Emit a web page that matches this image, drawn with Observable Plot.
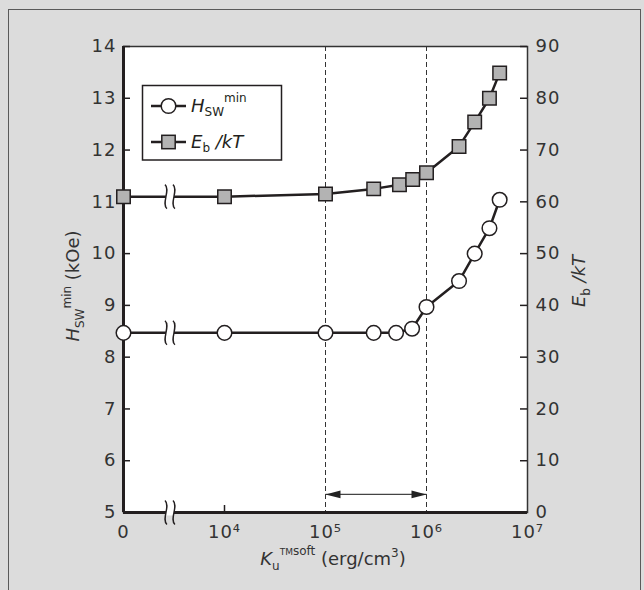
<!DOCTYPE html>
<html><head><meta charset="utf-8">
<script src="https://cdn.jsdelivr.net/npm/d3@7"></script>
<script src="https://cdn.jsdelivr.net/npm/@observablehq/plot@0.6"></script>
<style>
html,body{margin:0;padding:0;background:#dcdcdc;}
#wrap{position:relative;width:644px;height:590px;overflow:hidden;background:#dcdcdc;}
#border{position:absolute;left:8px;top:9px;width:633px;height:640px;border:1.5px solid #5a5a5a;box-sizing:border-box;}
#wrap svg{position:absolute;left:0;top:0;}
#wrap svg g[aria-label$="tick label"] text{letter-spacing:1px;}
</style></head><body><div id="wrap"><div id="border"></div></div>
<script>
// x axis: log10 of K (0 placed at the "0" tick position)
const xTickPos = [3, 4, 5, 6, 7];
const xTickLabels = ["0", "10⁴", "10⁵", "10⁶", "10⁷"];
// left axis (kOe) and right axis (Eb/kT)
const hTicks = [5, 6, 7, 8, 9, 10, 11, 12, 13, 14];
const eTickLabels = [0, 10, 20, 30, 40, 50, 60, 70, 80, 90];
// H_SW^min series
const kH = [0, 1e4, 1e5, 3e5, 5e5, 7.2e5, 1e6, 2.1e6, 3e6, 4.2e6, 5.3e6];
const hsw = [8.47, 8.47, 8.47, 8.47, 8.47, 8.55, 8.97, 9.47, 10.0, 10.49, 11.04];
// Eb/kT series
const kE = [0, 1e4, 1e5, 3e5, 5.4e5, 7.3e5, 1e6, 2.1e6, 3e6, 4.2e6, 5.3e6];
const eb = [61.0, 61.0, 61.5, 62.5, 63.3, 64.3, 65.6, 70.7, 75.4, 80.0, 84.9];
// dashed range and arrow
const rangeK = [1e5, 1e6];
const arrowH = 5.35;
const breakPos = 3.46;

const W = 644, HT = 590, mL = 123, mR = 117, mT = 46, mB = 78;
const innerW = W - mL - mR, innerH = HT - mT - mB, tickLen = 7;

const zeroPos = xTickPos[0];
const pos = k => k === 0 ? zeroPos : Math.log10(k);
const eToH = e => e / 10 + 5;
const H = kH.map((k, i) => ({x: pos(k), y: hsw[i]}));
const E = kE.map((k, i) => ({x: pos(k), y: eToH(eb[i])}));
const ink = "#231f20";
const breaks = [hTicks[0], hsw[0], eToH(eb[0])].map(y => ({x: breakPos, y}));
const arrowData = [{x1: Math.log10(rangeK[0]), x2: Math.log10(rangeK[1]), y: arrowH}];
const heads = [{x: Math.log10(rangeK[0]), y: arrowH, r: 180}, {x: Math.log10(rangeK[1]), y: arrowH, r: 0}];
const headSymbol = {draw(ctx) { ctx.moveTo(0, 0); ctx.lineTo(-15, -3.8); ctx.lineTo(-15, 3.8); ctx.closePath(); }};
// break mark: two vertical S-shaped squiggles, with a white gap between them
const gapSymbol = {draw(ctx) { ctx.rect(-4, -3, 8, 6); }};
const squiggleSymbol = {draw(ctx) {
  [-4, 4].forEach(o => {
    ctx.moveTo(o - 1, -12);
    ctx.bezierCurveTo(o + 5, -7, o - 5, 7, o + 1, 12);
  });
}};

const plot = Plot.plot({
  width: W, height: HT,
  marginLeft: mL, marginRight: mR, marginTop: mT, marginBottom: mB,
  style: {background: "transparent", fontFamily: "'DejaVu Sans'", fontSize: "18px", color: "#333"},
  x: {domain: [3, 7]},
  y: {domain: [5, 14]},
  marks: [
    Plot.frame({fill: "white", stroke: "#333", strokeWidth: 1.5}),
    Plot.ruleX(rangeK.map(Math.log10), {stroke: "#333", strokeWidth: 1, strokeDasharray: "5,3"}),
    Plot.link(arrowData, {x1: "x1", x2: "x2", y1: "y", y2: "y", stroke: "#444", strokeWidth: 1.2}),
    Plot.dot(heads, {x: "x", y: "y", rotate: "r", symbol: headSymbol, r: 5, fill: "#222", stroke: null}),
    // inward ticks
    Plot.tickY(hTicks, {y: d => d, insetRight: innerW - tickLen, stroke: ink, strokeWidth: 1.5}),
    Plot.tickY(hTicks, {y: d => d, insetLeft: innerW - tickLen, stroke: ink, strokeWidth: 1.5}),
    Plot.tickX([xTickPos[1]], {x: d => d, insetTop: innerH - tickLen, stroke: ink, strokeWidth: 1.5}),
    Plot.ruleX([zeroPos], {stroke: ink, strokeWidth: 3}),
    Plot.ruleY([hTicks[0]], {stroke: ink, strokeWidth: 3}),
    Plot.line(E, {x: "x", y: "y", stroke: ink, strokeWidth: 2.5}),
    Plot.line(H, {x: "x", y: "y", stroke: ink, strokeWidth: 2.5}),
    Plot.dot(breaks, {x: "x", y: "y", symbol: gapSymbol, r: 5, fill: "white", stroke: null}),
    Plot.dot(breaks, {x: "x", y: "y", symbol: squiggleSymbol, r: 5, fill: "none", stroke: ink, strokeWidth: 1.4}),
    Plot.dot(E, {x: "x", y: "y", symbol: "square", r: 7.6, fill: "#b3b3b3", stroke: ink, strokeWidth: 1.5}),
    Plot.dot(H, {x: "x", y: "y", r: 7.3, fill: "white", stroke: ink, strokeWidth: 1.5}),
    Plot.axisX({ticks: xTickPos, tickFormat: d => xTickLabels[xTickPos.indexOf(d)], tickSize: 0, tickPadding: 13, fontSize: 18, label: null}),
    Plot.axisY({anchor: "left", ticks: hTicks, tickFormat: d => String(d), tickSize: 0, tickPadding: 7, fontSize: 18, label: null}),
    Plot.axisY({anchor: "right", ticks: hTicks, tickFormat: d => String(eTickLabels[hTicks.indexOf(d)]), tickSize: 0, tickPadding: 8, fontSize: 18, label: null})
  ]
});
document.getElementById("wrap").appendChild(plot);

const svg = d3.select(plot);
const mkText = (sel, attrs) => {
  const t = sel.append("text").attr("font-size", 18).attr("font-family", "'DejaVu Sans'");
  Object.entries(attrs).forEach(([k, v]) => t.attr(k, v));
  return t;
};
// axis titles
const lt = mkText(svg, {transform: "translate(79,286) rotate(-90)", "text-anchor": "middle", fill: "#333"});
lt.append("tspan").attr("font-style", "italic").text("H");
lt.append("tspan").attr("font-size", 12).attr("dy", 5).text("SW");
lt.append("tspan").attr("font-size", 12).attr("dy", -13).text("min");
lt.append("tspan").attr("dy", 8).text(" (kOe)");

const rt = mkText(svg, {transform: "translate(585,281) rotate(-90)", "text-anchor": "middle", fill: "#333"});
rt.append("tspan").attr("font-style", "italic").text("E");
rt.append("tspan").attr("font-size", 12).attr("dy", 5).text("b");
rt.append("tspan").attr("dy", -5).attr("font-style", "italic").text(" /kT");

const xt = mkText(svg, {x: 333, y: 565, "text-anchor": "middle", fill: "#333"});
xt.append("tspan").attr("font-style", "italic").text("K");
xt.append("tspan").attr("font-size", 12).attr("dy", 5).text("u");
xt.append("tspan").attr("font-size", 9).attr("dy", -15).text("TM");
xt.append("tspan").attr("font-size", 12).text("soft");
xt.append("tspan").attr("dy", 10).text(" (erg/cm");
xt.append("tspan").attr("font-size", 12).attr("dy", -8).text("3");
xt.append("tspan").attr("dy", 8).text(")");

// legend
const lg = svg.append("g");
lg.append("rect").attr("x", 142.5).attr("y", 85.5).attr("width", 139).attr("height", 74.5)
  .attr("fill", "white").attr("stroke", ink).attr("stroke-width", 1.5);
[[106, "H"], [142, "E"]].forEach(([y, s]) => {
  lg.append("line").attr("x1", 151).attr("x2", 186).attr("y1", y).attr("y2", y).attr("stroke", ink).attr("stroke-width", 2.5);
  if (s === "H") lg.append("circle").attr("cx", 168.5).attr("cy", y).attr("r", 7.3).attr("fill", "white").attr("stroke", ink).attr("stroke-width", 1.5);
  else lg.append("rect").attr("x", 161.8).attr("y", y - 6.7).attr("width", 13.4).attr("height", 13.4).attr("fill", "#b3b3b3").attr("stroke", ink).attr("stroke-width", 1.5);
});
const l1 = mkText(lg, {x: 191, y: 112, "text-anchor": "start", fill: ink});
l1.append("tspan").attr("font-style", "italic").text("H");
l1.append("tspan").attr("font-size", 12).attr("dy", 4).text("SW");
l1.append("tspan").attr("font-size", 12).attr("dy", -14).text("min");
const l2 = mkText(lg, {x: 191, y: 148, "text-anchor": "start", fill: ink});
l2.append("tspan").attr("font-style", "italic").text("E");
l2.append("tspan").attr("font-size", 12).attr("dy", 4).text("b");
l2.append("tspan").attr("dy", -4).attr("font-style", "italic").text(" /kT");
</script>
</body></html>
